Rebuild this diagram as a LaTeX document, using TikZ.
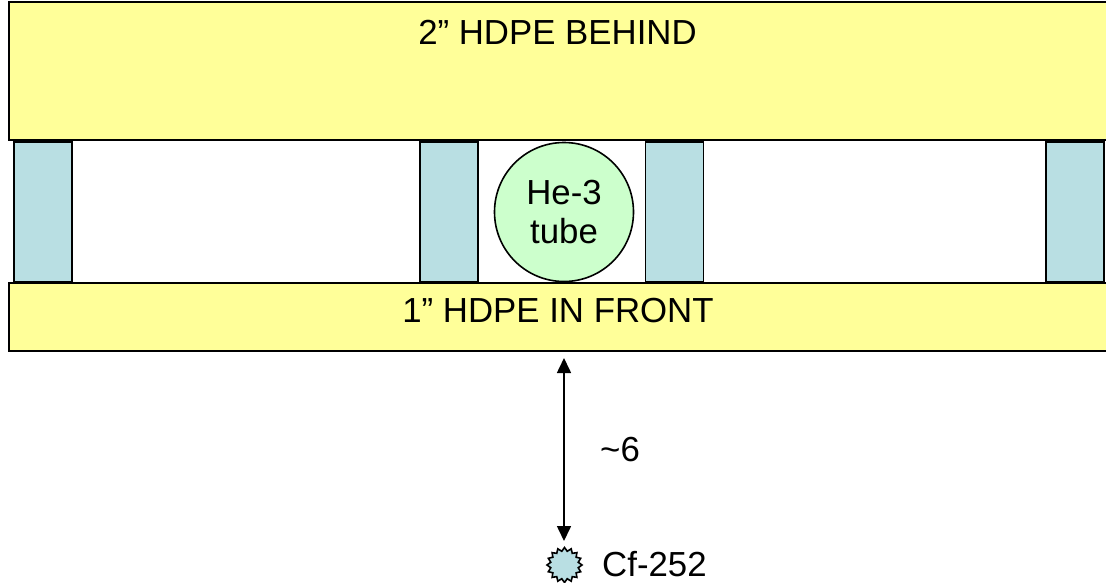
\documentclass[tikz,border=0pt]{standalone}
\usepackage{fontspec}
\setmainfont{Liberation Sans}
\usetikzlibrary{shapes.geometric,arrows.meta}
\definecolor{hdpe}{RGB}{255,255,153}
\definecolor{spacerblue}{RGB}{185,223,227}
\definecolor{tubegreen}{RGB}{204,255,204}
\tikzset{
  x=1pt,y=-1pt,
  slab/.style={draw=black,line width=1.6pt,fill=hdpe,inner sep=0pt},
  spacer/.style={draw=black,line width=1.6pt,fill=spacerblue,inner sep=0pt,minimum width=58pt,minimum height=140pt},
  lab/.style={font=\fontsize{34.8pt}{41pt}\selectfont,text=black,inner sep=0pt},
  tube/.style={circle,draw=black,line width=1.6pt,fill=tubegreen,minimum size=139pt,inner sep=0pt,align=center,font=\fontsize{34.8pt}{39pt}\selectfont},
  source/.style={star,star points=16,star point ratio=1.25,draw=black,line width=1.6pt,fill=spacerblue,minimum size=35pt,inner sep=0pt},
  dimarrow/.style={draw=black,line width=1.6pt,{Triangle[length=15pt,width=14pt]}-{Triangle[length=15pt,width=14pt]}}
}
\begin{document}
\begin{tikzpicture}
\useasboundingbox (0,0) rectangle (1106,582);
\fill[white] (0,0) rectangle (1106,582);
\node[slab,minimum width=1112pt,minimum height=138pt,anchor=south west] (behind) at (8,141) {};
\node[lab] (behindlab) at (557.5,32) {2” HDPE BEHIND};
\node[spacer] (s1) at (43,212) {};
\node[spacer] (s2) at (449,212) {};
\node[spacer] (s3) at (674.5,212) {};
\node[spacer] (s4) at (1075,212) {};
\node[slab,minimum width=1112pt,minimum height=68pt,anchor=north west] (front) at (8,282) {};
\node[lab] (frontlab) at (558,311) {1” HDPE IN FRONT};
\node[tube] (he3) at (564,212) {He-3\\tube};
\node[source] (cf) at (564.5,565) {};
\node[lab,anchor=west] (cflab) at (602,564) {Cf-252};
\node[lab,anchor=west] (dist) at (600,450) {\textasciitilde 6};
\coordinate (atop) at (564,358);
\coordinate (abot) at (564,541);
\draw[dimarrow] (atop) -- (abot);
\end{tikzpicture}
\end{document}
